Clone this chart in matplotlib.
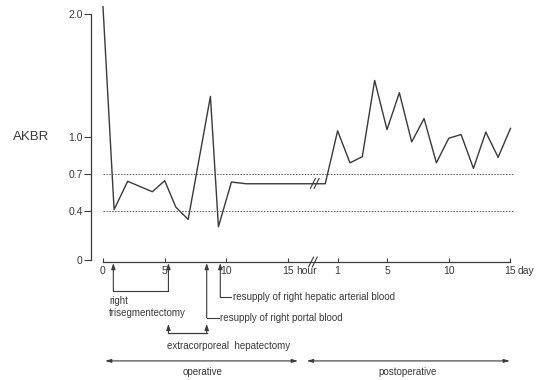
import numpy as np
import matplotlib
matplotlib.use("Agg")
import matplotlib.pyplot as plt

# operative period, hours
op_hours = [0, 0.9, 2.0, 4.0, 5.0, 5.9, 6.9, 8.7, 9.35, 10.4, 11.6]
op_akbr = [2.06, 0.41, 0.64, 0.555, 0.645, 0.43, 0.33, 1.33, 0.27, 0.634, 0.62]

# postoperative period, days (day 0 = end of operation)
post_days = [0, 1, 2, 3, 4, 5, 6, 7, 8, 9, 10, 11, 12, 13, 14, 15]
post_akbr = [0.62, 1.05, 0.79, 0.84, 1.46, 1.06, 1.36, 0.96, 1.15, 0.79, 0.99,
             1.02, 0.745, 1.04, 0.835, 1.07]

y_ticks = [0, 0.4, 0.7, 1.0, 2.0]
y_labels = ["0", "0.4", "0.7", "1.0", "2.0"]
hour_ticks = [0, 5, 10, 15]
day_ticks = [1, 5, 10, 15]

DAY0 = 18  # x position of day 0 on the common axis
BREAK = 17
col = "#3a3a3a"
fs = 7.5

plt.rcParams['font.family'] = ['Liberation Sans', 'DejaVu Sans']

fig = plt.figure(figsize=(5.48, 3.80), dpi=100)
ax = fig.add_axes([91 / 548, 1 - 262 / 380, (520 - 91) / 548, (262 - 5) / 380])
ax.set_xlim(-0.97, 33.77)
ax.set_ylim(-0.016, 2.073)

x_post = [d + DAY0 for d in post_days]
xs = op_hours + x_post
ys = op_akbr + post_akbr
ax.plot(xs, ys, color=col, lw=1.0, clip_on=False)

# reference lines
for v in [0.4, 0.7]:
    ax.plot([0, 33.3], [v, v], color="#555555", lw=0.7, ls=(0, (1.5, 1.5)))

# spines
for s in ["top", "right"]:
    ax.spines[s].set_visible(False)
ax.spines["left"].set_bounds(0, 2.0)
ax.spines["bottom"].set_bounds(0, 33)
ax.spines["left"].set_color(col)
ax.spines["bottom"].set_color(col)
ax.spines["left"].set_linewidth(0.9)
ax.spines["bottom"].set_linewidth(0.9)

ax.set_yticks(y_ticks)
ax.set_yticklabels(y_labels, fontsize=fs, color=col)
ax.tick_params(axis="y", length=5, width=0.8, color=col, pad=1)

xt = hour_ticks + [d + DAY0 for d in day_ticks]
xl = [str(h) for h in hour_ticks] + [str(d) for d in day_ticks]
ax.set_xticks(xt)
ax.set_xticklabels(xl, fontsize=fs, color=col)
ax.tick_params(axis="x", direction="in", length=3, width=0.8, color=col, pad=3)
ax.text(15.65, -0.052, "hour", fontsize=fs, color=col, va="top", ha="left")
ax.text(33.6, -0.052, "day", fontsize=fs, color=col, va="top", ha="left")

ax.text(-7.3, 1.0, "AKBR", fontsize=9.5, color=col, va="center", ha="left")

# break marks on the axis and on the line
for bx, by in [(BREAK, -0.016), (BREAK + 0.15, 0.623)]:
    for dx in (-0.15, 0.15):
        ax.plot([bx + dx - 0.2, bx + dx + 0.2], [by - 0.04, by + 0.04],
                color=col, lw=0.8, clip_on=False)

ap = dict(arrowstyle="-|>,head_length=0.35,head_width=0.12", color=col, lw=0.8,
          shrinkA=0, shrinkB=0)

# right trisegmentectomy bracket
yb = -0.25
ax.annotate("", xy=(0.84, -0.025), xytext=(0.84, yb), arrowprops=ap, annotation_clip=False)
ax.annotate("", xy=(5.3, -0.025), xytext=(5.3, yb), arrowprops=ap, annotation_clip=False)
ax.plot([0.84, 5.3], [yb, yb], color=col, lw=0.8, clip_on=False)
ax.text(0.5, -0.29, "right\ntrisegmentectomy", fontsize=fs - 0.5, color=col,
        va="top", ha="left", linespacing=1.3)

# resupply of right portal blood
yp = -0.47
ax.annotate("", xy=(8.4, -0.025), xytext=(8.4, yp), arrowprops=ap, annotation_clip=False)
ax.plot([8.4, 9.4], [yp, yp], color=col, lw=0.8, clip_on=False)
ax.text(9.5, yp, "resupply of right portal blood", fontsize=fs - 0.5, color=col,
        va="center", ha="left")

# resupply of right hepatic arterial blood
ya = -0.30
ax.annotate("", xy=(9.5, -0.025), xytext=(9.5, ya), arrowprops=ap, annotation_clip=False)
ax.plot([9.5, 10.4], [ya, ya], color=col, lw=0.8, clip_on=False)
ax.text(10.5, ya, "resupply of right hepatic arterial blood", fontsize=fs - 0.5,
        color=col, va="center", ha="left")

# extracorporeal hepatectomy
ye = -0.59
ax.plot([5.3, 8.4], [ye, ye], color=col, lw=0.9, clip_on=False)
for ex in (5.3, 8.4):
    ax.annotate("", xy=(ex, ye + 0.07), xytext=(ex, ye), arrowprops=ap, annotation_clip=False)
ax.text(10.2, -0.695, "extracorporeal  hepatectomy", fontsize=fs - 0.5, color=col,
        va="center", ha="center")

# operative / postoperative
dap = dict(arrowstyle="<|-|>,head_length=0.35,head_width=0.1", color=col, lw=0.8,
           shrinkA=0, shrinkB=0)
yo = -0.82
ax.annotate("", xy=(0.16, yo), xytext=(15.8, yo), arrowprops=dap, annotation_clip=False)
ax.annotate("", xy=(16.5, yo), xytext=(32.96, yo), arrowprops=dap, annotation_clip=False)
ax.text(8.1, -0.91, "operative", fontsize=fs - 0.5, color=col, va="center", ha="center")
ax.text(24.7, -0.91, "postoperative", fontsize=fs - 0.5, color=col, va="center", ha="center")

fig.savefig("out.png", dpi=100)
